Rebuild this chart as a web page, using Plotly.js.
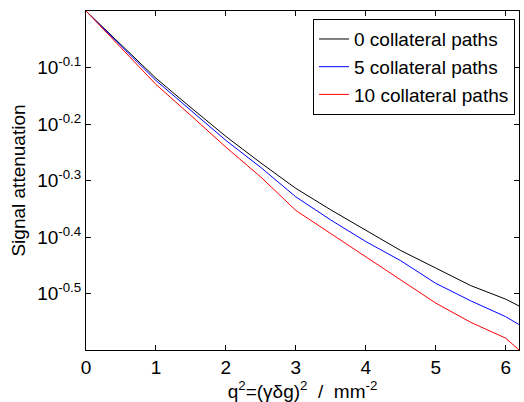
<!DOCTYPE html>
<html>
<head>
<meta charset="utf-8">
<script src="https://cdn.plot.ly/plotly-3.0.1.min.js"></script>
<style>html,body{margin:0;padding:0;background:#fff;}#chart{width:524px;height:402px;}</style>
</head>
<body>
<div id="chart"></div>
<script>
// q^2 values (mm^-2)
var q2 = [0, 0.5, 1, 1.5, 2, 2.5, 3, 3.5, 4, 4.5, 5, 5.5, 6, 6.19];
// Signal attenuation
var paths0  = [1, 0.8710, 0.7603, 0.6745, 0.5998, 0.5383, 0.4853, 0.4446, 0.4093, 0.3767, 0.3508, 0.3266, 0.3090, 0.3006];
var paths5  = [1, 0.8670, 0.7534, 0.6668, 0.5902, 0.5284, 0.4688, 0.4266, 0.3908, 0.3614, 0.3296, 0.3069, 0.2877, 0.2786];
var paths10 = [1, 0.8610, 0.7413, 0.6531, 0.5741, 0.5082, 0.4436, 0.4036, 0.3673, 0.3334, 0.3041, 0.2812, 0.2636, 0.2512];
var seriesNames = ['0 collateral paths', '5 collateral paths', '10 collateral paths'];
var seriesColors = ['#000000', '#0000ff', '#ff0000'];
var yTickVals = [Math.pow(10, -0.1), Math.pow(10, -0.2), Math.pow(10, -0.3), Math.pow(10, -0.4), Math.pow(10, -0.5)];
var yTickText = ['10<sup>-0.1</sup>', '10<sup>-0.2</sup>', '10<sup>-0.3</sup>', '10<sup>-0.4</sup>', '10<sup>-0.5</sup>'];
var xTickVals = [0, 1, 2, 3, 4, 5, 6];

var ys = [paths0, paths5, paths10];
var traces = ys.map(function (y, i) {
  return {
    x: q2, y: y, type: 'scatter', mode: 'lines',
    name: seriesNames[i],
    line: {color: seriesColors[i], width: 1}
  };
});

var font = {family: '"Liberation Sans", Arial, sans-serif', size: 19, color: '#000'};
var layout = {
  width: 524, height: 402,
  margin: {l: 86, r: 5, t: 11, b: 52},
  paper_bgcolor: '#fff', plot_bgcolor: '#fff',
  font: font,
  showlegend: true,
  legend: {
    x: 0.9908, y: 0.976, xanchor: 'right', yanchor: 'top',
    bgcolor: '#fff', bordercolor: '#000', borderwidth: 1,
    font: font, itemwidth: 30, tracegroupgap: 0
  },
  xaxis: {
    range: [0, 6.19], tickvals: xTickVals, ticks: 'inside', ticklen: 5, tickcolor: '#000',
    showline: true, linecolor: '#000', linewidth: 1, mirror: 'ticks', showgrid: false, zeroline: false,
    tickfont: font,
    title: {text: 'q<sup>2</sup>=(γδg)<sup>2</sup>  /  mm<sup>-2</sup>', font: font, standoff: 5}
  },
  yaxis: {
    type: 'log', range: [-0.6, 0], tickvals: yTickVals, ticktext: yTickText,
    ticks: 'inside', ticklen: 5, tickcolor: '#000',
    showline: true, linecolor: '#000', linewidth: 1, mirror: 'ticks', showgrid: false, zeroline: false,
    tickfont: font,
    title: {text: 'Signal attenuation', font: font, standoff: 6}
  }
};

Plotly.newPlot('chart', traces, layout, {displayModeBar: false, staticPlot: true});
</script>
</body>
</html>
